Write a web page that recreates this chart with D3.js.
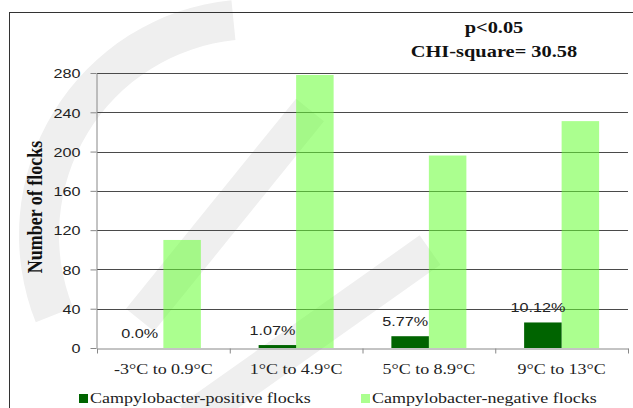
<!DOCTYPE html>
<html>
<head>
<meta charset="utf-8">
<script src="https://cdn.jsdelivr.net/npm/d3@7"></script>
<style>
  body { margin: 0; background: #fff; }
  svg { display: block; }
  .serif { font-family: "Liberation Serif", "Times New Roman", serif; }
  .sans { font-family: "Liberation Sans", Arial, sans-serif; }
</style>
</head>
<body>
<div id="chart"></div>
<script>
// data
const categories = ["-3°C to 0.9°C", "1°C to 4.9°C", "5°C to 8.9°C", "9°C to 13°C"];
const positive = [0, 3, 12, 26];
const negative = [110, 278, 196, 231];
const percentLabels = ["0.0%", "1.07%", "5.77%", "10.12%"];
const yTicks = [0, 40, 80, 120, 160, 200, 240, 280];
const seriesNames = ["Campylobacter-positive flocks", "Campylobacter-negative flocks"];

let width = 633;
let height = 408;
let plotLeft = 97, plotRight = 628, plotTop = 73, plotBottom = 348;
let stretch = 1.2;   // the source image is squashed wide, text included

let darkGreen = "#006400";
let lightGreen = "#66ff33";

let svg = d3.select("#chart")
  .append("svg")
  .attr("width", width)
  .attr("height", height);

/* faint watermark behind the chart */
let wm = svg.append("g").attr("fill", "none").attr("stroke", "#efefef");
let arc = d3.arc()
  .innerRadius(196).outerRadius(236)
  .startAngle(-1.95).endAngle(-0.1);
wm.append("path")
  .attr("d", arc())
  .attr("fill", "#efefef").attr("stroke", "none")
  .attr("transform", "translate(255,235)");
wm.append("line").attr("x1", 140).attr("y1", 320).attr("x2", 310).attr("y2", 110).attr("stroke-width", 36);
wm.append("line").attr("x1", 190).attr("y1", 420).attr("x2", 430).attr("y2", 250).attr("stroke-width", 36);

/* frame */
svg.append("rect")
  .attr("x", 9.5).attr("y", 12.5)
  .attr("width", 700).attr("height", 500)
  .attr("fill", "none")
  .attr("stroke", "#333");

/* scales */
let y = d3.scaleLinear().domain([0, 280]).range([plotBottom, plotTop]);
let x0 = d3.scaleBand()
  .domain(categories)
  .range([plotLeft, plotRight])
  .paddingInner(0.435)
  .paddingOuter(0.2175);
let x1 = d3.scaleBand().domain([0, 1]).range([0, x0.bandwidth()]);
let xEdges = d3.scaleLinear().domain([0, categories.length]).range([plotLeft, plotRight]);

function stretched(sel, tx, ty) {
  return sel.attr("transform", `translate(${tx},${ty}) scale(${stretch},1)`);
}

/* gridlines */
svg.append("g")
  .attr("class", "grid")
  .selectAll("line")
  .data(yTicks.filter(d => d > 0))
  .enter()
  .append("line")
  .attr("x1", plotLeft).attr("x2", plotRight)
  .attr("y1", d => Math.round(y(d)) + 0.5)
  .attr("y2", d => Math.round(y(d)) + 0.5)
  .attr("stroke", "#4a4a4a");

/* bars */
let groups = svg.append("g")
  .selectAll("g")
  .data(categories)
  .enter()
  .append("g")
  .attr("transform", d => `translate(${x0(d)},0)`);

groups.append("rect")
  .attr("x", x1(1))
  .attr("width", x1.bandwidth())
  .attr("y", (d, i) => y(negative[i]))
  .attr("height", (d, i) => y(0) - y(negative[i]))
  .attr("fill", lightGreen)
  .attr("fill-opacity", 0.55);

groups.append("rect")
  .attr("x", x1(0))
  .attr("width", x1.bandwidth())
  .attr("y", (d, i) => y(positive[i]))
  .attr("height", (d, i) => y(0) - y(positive[i]))
  .attr("fill", darkGreen);

/* percent labels */
groups.append("text")
  .attr("class", "sans")
  .text((d, i) => percentLabels[i])
  .attr("text-anchor", "middle")
  .attr("font-size", 13.5)
  .attr("fill", "#222")
  .each(function (d, i) {
    stretched(d3.select(this), x1(0) + x1.bandwidth() / 2 - 5, y(positive[i]) - 10);
  });

/* y axis */
let yAxis = svg.append("g")
  .attr("transform", `translate(${plotLeft - 0.5},0)`)
  .call(d3.axisLeft(y).tickValues(yTicks).tickSize(6).tickSizeOuter(0));
yAxis.select(".domain").attr("stroke", "#888");
yAxis.selectAll(".tick line").attr("stroke", "#888");
yAxis.selectAll(".tick text")
  .attr("class", "sans")
  .attr("x", 0)
  .attr("dy", "0.35em")
  .attr("transform", `translate(-16,0) scale(${stretch},1)`)
  .attr("fill", "#222")
  .attr("font-size", 13.5);
yAxis.attr("font-family", null);

/* x axis: ticks on the category edges, labels in the middle */
let xAxis = svg.append("g")
  .attr("transform", `translate(0,${plotBottom + 0.5})`)
  .call(d3.axisBottom(xEdges).ticks(categories.length).tickFormat("").tickSize(5).tickSizeOuter(0));
xAxis.select(".domain").attr("stroke", "#888");
xAxis.selectAll(".tick line").attr("stroke", "#888");

svg.append("g")
  .selectAll("text")
  .data(categories)
  .enter()
  .append("text")
  .attr("class", "serif")
  .text(d => d)
  .attr("text-anchor", "middle")
  .attr("font-size", 15)
  .attr("fill", "#222")
  .each(function (d) {
    stretched(d3.select(this), x0(d) + x0.bandwidth() / 2, 374);
  });

/* y label */
svg.append("text")
  .attr("class", "serif")
  .text("Number of flocks")
  .attr("text-anchor", "middle")
  .attr("font-size", 18)
  .attr("font-weight", "bold")
  .attr("fill", "#111")
  .attr("transform", `translate(42,207) scale(${stretch},1) rotate(-90)`);

/* stats note */
let note = ["p<0.05", "CHI-square= 30.58"];
note.forEach((t, i) => {
  stretched(svg.append("text"), 494, 33 + i * 24)
    .attr("class", "serif")
    .text(t)
    .attr("text-anchor", "middle")
    .attr("font-size", 17)
    .attr("font-weight", "bold")
    .attr("fill", "#111");
});

/* legend */
let legendX = [79, 361];
let legend = svg.append("g")
  .selectAll("g")
  .data(seriesNames)
  .enter()
  .append("g")
  .attr("transform", (d, i) => `translate(${legendX[i]},394)`);

legend.append("rect")
  .attr("width", 9).attr("height", 9)
  .attr("fill", (d, i) => i === 0 ? darkGreen : lightGreen)
  .attr("fill-opacity", (d, i) => i === 0 ? 1 : 0.55);

legend.append("text")
  .attr("class", "serif")
  .text(d => d)
  .attr("font-size", 15)
  .attr("fill", "#222")
  .attr("transform", `translate(11,9) scale(${stretch},1)`);
</script>
</body>
</html>
